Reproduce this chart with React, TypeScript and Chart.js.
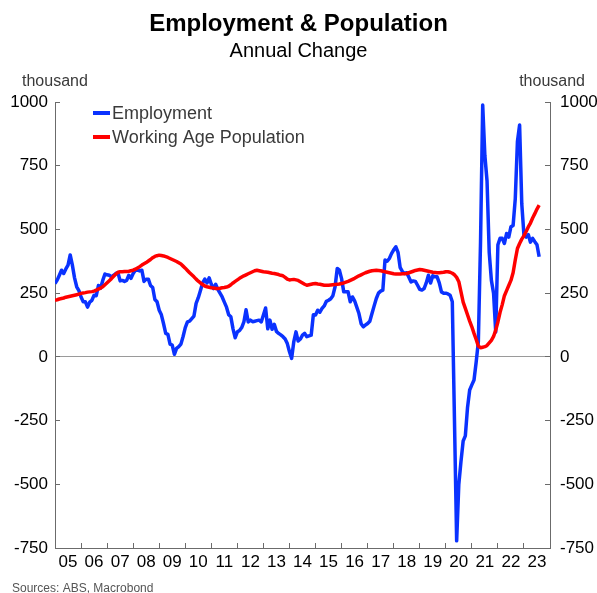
import React, { useEffect, useRef } from 'react';
import { Chart, registerables } from 'chart.js';

Chart.register(...registerables);

const FAMILY = '"Liberation Sans", Arial, Helvetica, sans-serif';

const TITLE = 'Employment & Population';
const SUBTITLE = 'Annual Change';
const UNIT_LABEL = 'thousand';
const SOURCES = 'Sources: ABS, Macrobond';

const START_YEAR = 2005;
const END_YEAR = 2024;

const yearLabels = ['05', '06', '07', '08', '09', '10', '11', '12', '13', '14', '15', '16', '17', '18', '19', '20', '21', '22', '23'];
const yTicks = [-750, -500, -250, 0, 250, 500, 750, 1000];

const seriesNames = ['Employment', 'Working Age Population'];
const seriesColors = ['#0a32ff', '#ff0000'];

// Monthly annual change, thousand (Jan 2005 .. Aug 2023)
const employment = [
  288, 301, 320, 340, 327, 345, 360, 400, 360, 310, 275, 260, // 2005
  235, 216, 216, 195, 215, 222, 242, 240, 280, 270, 300, 325, // 2006
  322, 320, 314, 320, 327, 330, 298, 300, 296, 300, 320, 308, // 2007
  327, 340, 340, 337, 340, 296, 305, 305, 280, 272, 225, 216, // 2008
  183, 165, 130, 92, 88, 50, 46, 10, 33, 40, 50, 80, // 2009
  115, 137, 140, 150, 160, 210, 232, 260, 290, 305, 290, 310, // 2010
  285, 268, 285, 265, 250, 235, 215, 195, 165, 157, 110, 75, // 2011
  98, 103, 115, 137, 185, 137, 144, 138, 140, 142, 144, 137, // 2012
  164, 192, 110, 144, 108, 128, 100, 92, 86, 79, 70, 52, // 2013
  20, -6, 60, 98, 62, 70, 85, 92, 79, 82, 85, 165, // 2014
  164, 183, 175, 190, 200, 218, 222, 228, 240, 275, 347, 340, // 2015
  307, 255, 255, 255, 216, 235, 220, 195, 170, 130, 118, 125, // 2016
  131, 140, 170, 200, 229, 250, 258, 262, 380, 375, 386, 405, // 2017
  420, 432, 410, 350, 335, 327, 330, 312, 294, 298, 296, 281, // 2018
  265, 262, 268, 290, 320, 290, 318, 314, 314, 290, 255, 250, // 2019
  250, 247, 242, 216, -250, -722, -500, -410, -330, -310, -200, -130, // 2020
  -110, -91, -20, 60, 450, 988, 790, 690, 410, 300, 250, 98, // 2021
  440, 465, 465, 445, 484, 470, 510, 515, 620, 845, 910, 600, // 2022
  478, 470, 480, 450, 465, 452, 440, 393, // 2023
];

const workingAgePopulation = [
  222, 224, 227, 229, 231, 234, 236, 238, 240, 242, 244, 246, // 2005
  249, 251, 252, 254, 255, 256, 258, 262, 266, 270, 275, 283, // 2006
  291, 299, 307, 316, 325, 332, 334, 334, 335, 335, 336, 338, // 2007
  340, 344, 349, 354, 360, 365, 370, 376, 382, 389, 394, 397, // 2008
  399, 398, 396, 393, 390, 386, 382, 378, 374, 369, 364, 356, // 2009
  348, 339, 330, 322, 314, 305, 297, 290, 284, 278, 275, 273, // 2010
  271, 270, 268, 268, 269, 271, 272, 274, 277, 283, 290, 296, // 2011
  302, 308, 313, 318, 322, 326, 330, 334, 338, 340, 338, 336, // 2012
  334, 333, 332, 330, 328, 327, 325, 323, 320, 318, 312, 305, // 2013
  302, 303, 304, 302, 300, 295, 290, 285, 281, 283, 285, 287, // 2014
  288, 286, 285, 283, 281, 281, 281, 282, 283, 284, 285, 286, // 2015
  288, 290, 293, 296, 300, 304, 308, 313, 318, 322, 326, 330, // 2016
  333, 336, 338, 339, 340, 339, 338, 336, 334, 332, 330, 328, // 2017
  326, 325, 325, 325, 326, 326, 327, 330, 333, 336, 339, 341, // 2018
  343, 342, 340, 338, 336, 334, 332, 331, 330, 330, 331, 332, // 2019
  334, 334, 332, 328, 322, 312, 295, 255, 215, 190, 165, 140, // 2020
  118, 92, 68, 42, 36, 38, 40, 45, 55, 65, 80, 105, // 2021
  137, 175, 205, 240, 260, 280, 300, 330, 380, 425, 445, 462, // 2022
  475, 492, 510, 525, 545, 562, 580, 595, // 2023
];

const AXIS_COLOR = '#6b6b6b';
const ZERO_COLOR = '#9a9a9a';
const TEXT_COLOR = '#000000';
const LEGEND_TEXT = '#3a3a3a';

const toPoints = (vals: number[]) => vals.map((v, i) => ({ x: START_YEAR + i / 12, y: v }));

const xTickValues: number[] = [];
for (let y = START_YEAR; y <= END_YEAR; y++) {
  xTickValues.push(y);
  if (y < END_YEAR) xTickValues.push(y + 0.5);
}

const textPlugin = {
  id: 'textPlugin',
  afterDraw(chart: any) {
    const ctx = chart.ctx;
    const area = chart.chartArea;
    ctx.save();
    ctx.fillStyle = TEXT_COLOR;
    ctx.textAlign = 'center';
    ctx.textBaseline = 'alphabetic';
    ctx.font = `bold 24px ${FAMILY}`;
    ctx.fillText(TITLE, 298.5, 31);
    ctx.font = `20px ${FAMILY}`;
    ctx.fillText(SUBTITLE, 298.5, 57);

    ctx.fillStyle = LEGEND_TEXT;
    ctx.font = `16px ${FAMILY}`;
    ctx.textAlign = 'left';
    ctx.fillText(UNIT_LABEL, 22, 86);
    ctx.textAlign = 'right';
    ctx.fillText(UNIT_LABEL, 585, 86);

    ctx.fillStyle = '#555555';
    ctx.font = `12px ${FAMILY}`;
    ctx.textAlign = 'left';
    ctx.fillText(SOURCES, 12, 592);

    // legend
    ctx.font = `18px ${FAMILY}`;
    ctx.textBaseline = 'middle';
    chart.data.datasets.forEach((ds: any, i: number) => {
      const y = area.top + 11 + i * 24;
      ctx.strokeStyle = ds.borderColor;
      ctx.lineWidth = 4;
      ctx.beginPath();
      ctx.moveTo(area.left + 38, y);
      ctx.lineTo(area.left + 55, y);
      ctx.stroke();
      ctx.fillStyle = LEGEND_TEXT;
      ctx.fillText(ds.label, area.left + 57, y + 1);
    });
    ctx.restore();
  },
};

export default function App() {
  const canvasRef = useRef<HTMLCanvasElement | null>(null);

  useEffect(() => {
    document.body.style.margin = '0';
    const canvas = canvasRef.current;
    if (!canvas) return;
    const chart = new Chart(canvas, {
      type: 'line',
      data: {
        datasets: [
          {
            label: seriesNames[0],
            data: toPoints(employment),
            borderColor: seriesColors[0],
            backgroundColor: seriesColors[0],
            borderWidth: 3.5,
            pointRadius: 0,
            tension: 0,
            borderJoinStyle: 'round',
            yAxisID: 'y',
            order: 1,
          },
          {
            label: seriesNames[1],
            data: toPoints(workingAgePopulation),
            borderColor: seriesColors[1],
            backgroundColor: seriesColors[1],
            borderWidth: 3.5,
            pointRadius: 0,
            tension: 0,
            borderJoinStyle: 'round',
            yAxisID: 'y',
            order: 0,
          },
        ],
      },
      options: {
        responsive: false,
        animation: false,
        devicePixelRatio: 1,
        layout: { padding: { top: 102, left: 0, right: 0, bottom: 0 } },
        plugins: {
          legend: { display: false },
          title: { display: false },
          tooltip: { enabled: false },
        },
        scales: {
          x: {
            type: 'linear',
            position: 'bottom',
            min: START_YEAR,
            max: END_YEAR,
            afterBuildTicks: (s: any) => {
              s.ticks = xTickValues.map((v) => ({ value: v }));
            },
            afterFit: (s: any) => {
              s.height = 45;
            },
            ticks: {
              autoSkip: false,
              maxRotation: 0,
              minRotation: 0,
              padding: 9,
              color: TEXT_COLOR,
              font: { family: FAMILY, size: 17 },
              callback: (v: any) => {
                const n = Number(v);
                if (Math.abs(n % 1 - 0.5) < 1e-6) return yearLabels[Math.floor(n) - START_YEAR];
                return '';
              },
            },
            grid: {
              drawOnChartArea: false,
              drawTicks: true,
              tickLength: -5,
              color: 'transparent',
              tickColor: (c: any) => (c.tick && Number.isInteger(c.tick.value) ? AXIS_COLOR : 'transparent'),
            },
            border: { display: true, color: AXIS_COLOR, width: 1 },
          },
          y: {
            type: 'linear',
            position: 'left',
            min: -750,
            max: 1000,
            afterBuildTicks: (s: any) => {
              s.ticks = yTicks.map((v) => ({ value: v }));
            },
            afterFit: (s: any) => {
              s.width = 55;
            },
            ticks: {
              padding: 12,
              color: TEXT_COLOR,
              font: { family: FAMILY, size: 17 },
              callback: (v: any) => String(v),
            },
            grid: {
              drawOnChartArea: true,
              drawTicks: true,
              tickLength: -5,
              color: (c: any) => (c.tick && c.tick.value === 0 ? ZERO_COLOR : 'transparent'),
              tickColor: AXIS_COLOR,
            },
            border: { display: true, color: AXIS_COLOR, width: 1 },
          },
          y2: {
            type: 'linear',
            position: 'right',
            display: true,
            min: -750,
            max: 1000,
            afterBuildTicks: (s: any) => {
              s.ticks = yTicks.map((v) => ({ value: v }));
            },
            afterFit: (s: any) => {
              s.width = 47;
            },
            ticks: {
              padding: 15,
              color: TEXT_COLOR,
              font: { family: FAMILY, size: 17 },
              callback: (v: any) => String(v),
            },
            grid: {
              drawOnChartArea: false,
              drawTicks: true,
              tickLength: -5,
              tickColor: AXIS_COLOR,
            },
            border: { display: true, color: AXIS_COLOR, width: 1 },
          },
        },
      },
      plugins: [textPlugin],
    } as any);
    return () => chart.destroy();
  }, []);

  return (
    <div style={{ position: 'fixed', left: 0, top: 0, width: 597, height: 593, background: '#fff' }}>
      <canvas ref={canvasRef} width={597} height={593} style={{ width: 597, height: 593, display: 'block' }} />
    </div>
  );
}
